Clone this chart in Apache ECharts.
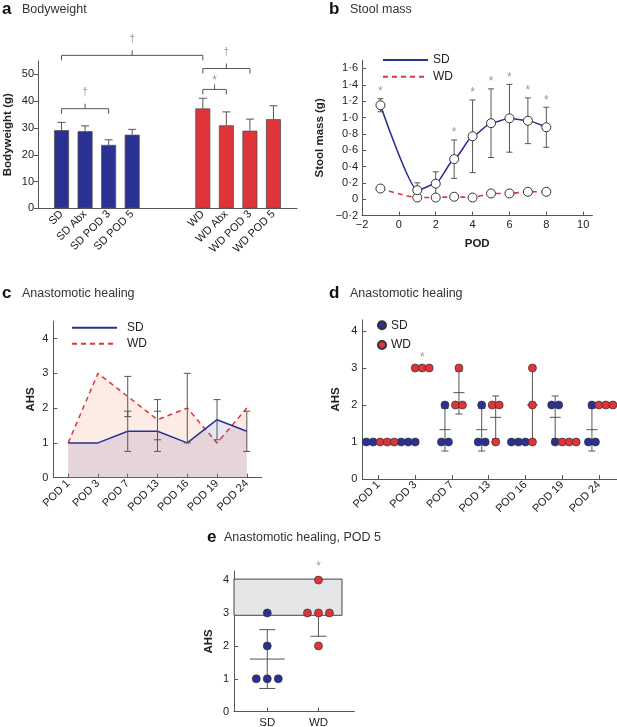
<!DOCTYPE html>
<html><head><meta charset="utf-8">
<script src="https://cdn.jsdelivr.net/npm/echarts@6/dist/echarts.min.js"></script>
<style>html,body{margin:0;padding:0;background:#fff}#c{width:617px;height:727px}</style>
</head><body><div id="c"></div>
<script>
// ---------- Panel a: bodyweight ----------
const bwSDCats = ['SD', 'SD Abx', 'SD POD 3', 'SD POD 5'];
const bwWDCats = ['WD', 'WD Abx', 'WD POD 3', 'WD POD 5'];
const bwSD = [29.2, 28.8, 23.7, 27.5];
const bwSDErr = [2.9, 2.0, 1.9, 2.0];
const bwWD = [37.3, 31.0, 29.0, 33.3];
const bwWDErr = [3.8, 5.0, 4.3, 5.0];
const bwTicks = [0, 10, 20, 30, 40, 50];
const bwBrackets = [['SD', 'WD', 57.1, '†'], ['WD', 'WD POD 3', 52.2, '†'], ['WD', 'WD Abx', 44.4, '*'], ['SD', 'SD POD 3', 37.2, '†']];

// ---------- Panel b: stool mass ----------
const podDays = [-1, 1, 2, 3, 4, 5, 6, 7, 8];
const stoolSD = [1.15, 0.11, 0.19, 0.49, 0.77, 0.93, 0.99, 0.96, 0.88];
const stoolSDErr = [0.08, 0.09, 0.145, 0.235, 0.445, 0.42, 0.415, 0.28, 0.245];
const stoolWD = [0.13, 0.02, 0.02, 0.03, 0.02, 0.07, 0.07, 0.09, 0.09];
const stoolStar = [1, 0, 0, 1, 1, 1, 1, 1, 1];
const stoolYTicks = [-0.2, 0, 0.2, 0.4, 0.6, 0.8, 1.0, 1.2, 1.4, 1.6];
const stoolXTicks = [-2, 0, 2, 4, 6, 8, 10];

// ---------- Panels c, d: anastomotic healing scores ----------
const healCats = ['POD 1', 'POD 3', 'POD 7', 'POD 13', 'POD 16', 'POD 19', 'POD 24'];
const ahsSD = [[1, 1], [1, 1, 1], [2, 1, 1], [2, 1, 1], [1, 1, 1], [2, 2, 1], [2, 1, 1]];
const ahsWD = [[1, 1, 1], [3, 3, 3], [3, 2, 2], [2, 2, 1], [3, 2, 1], [1, 1, 1], [2, 2, 2]];
const ahsStarWD = [0, 1, 0, 0, 0, 0, 0];
const ahsTicks = [0, 1, 2, 3, 4];

// ---------- Panel e: POD 5 ----------
const pod5Groups = ['SD', 'WD'];
const pod5SD = [3, 2, 1, 1, 1];
const pod5WD = [4, 3, 3, 3, 2];
const pod5Box = [0.35, 2.46, 2.93, 4.03];

// ---------- helpers ----------
const FONT = 'Liberation Sans, Arial, Helvetica, sans-serif';
const AX = '#555', TXT = '#222', GREY = '#999';
const BLUE = '#2b3192', RED = '#df3439';
const mean = a => a.reduce((s, v) => s + v, 0) / a.length;
const sstd = a => { const m = mean(a); return a.length > 1 ? Math.sqrt(a.reduce((s, v) => s + (v - m) * (v - m), 0) / (a.length - 1)) : 0; };
const rowOffsets = (n, sp) => Array.from({length: n}, (_, k) => (k - (n - 1) / 2) * sp);
function swarm(groups, centers, sp) {
  const out = groups.map(() => []);
  const levels = [...new Set(groups.flat())];
  levels.forEach(lv => {
    const rows = groups.map((g, gi) => rowOffsets(g.filter(v => v === lv).length, sp).map(o => o + centers[gi]));
    if (rows.length === 2 && rows[0].length && rows[1].length) {
      const ov = Math.max(...rows[0]) + sp - Math.min(...rows[1]);
      if (ov > 0) { rows[0] = rows[0].map(o => o - ov / 2); rows[1] = rows[1].map(o => o + ov / 2); }
    }
    rows.forEach((r, gi) => r.forEach(dx => out[gi].push([lv, dx])));
  });
  return out;
}
const line = (x1, y1, x2, y2, c, w, dash) => ({type: 'line', shape: {x1, y1, x2, y2}, style: {stroke: c || AX, lineWidth: w || 1, lineDash: dash}});

function baseX(grid, extra) {
  return Object.assign({
    gridIndex: grid,
    axisLine: {show: true, onZero: false, lineStyle: {color: AX, width: 1}},
    axisTick: {show: true, inside: true, length: 4, lineStyle: {color: AX}},
    axisLabel: {color: TXT, fontSize: 11, fontFamily: FONT, margin: 4},
    splitLine: {show: false},
    nameTextStyle: {color: TXT, fontSize: 11.5, fontWeight: 'bold', fontFamily: FONT}
  }, extra);
}

// ---------- panel a data ----------
const bwAxis = [''].concat(bwSDCats, ['', ''], bwWDCats, ['']);
const bwBars = bwAxis.map(c => {
  let i = bwSDCats.indexOf(c);
  if (c && i >= 0) return {value: bwSD[i], itemStyle: {color: BLUE}};
  i = bwWDCats.indexOf(c);
  if (c && i >= 0) return {value: bwWD[i], itemStyle: {color: RED}};
  return null;
});
const bwErrData = [];
bwSDCats.forEach((c, i) => bwErrData.push([bwAxis.indexOf(c), bwSD[i], bwSDErr[i]]));
bwWDCats.forEach((c, i) => bwErrData.push([bwAxis.indexOf(c), bwWD[i], bwWDErr[i]]));
const bwBrData = bwBrackets.map(b => [bwAxis.indexOf(b[0]), bwAxis.indexOf(b[1]), b[2]]);

// ---------- panel c/d data ----------
const sdMean = ahsSD.map(mean), wdMean = ahsWD.map(mean);
const sdStd = ahsSD.map(sstd), wdStd = ahsWD.map(sstd);
const cErr = [];
healCats.forEach((c, i) => { if (sdStd[i] > 0) cErr.push([i, sdMean[i], sdStd[i]]); if (wdStd[i] > 0) cErr.push([i, wdMean[i], wdStd[i]]); });
const dSDpts = [], dWDpts = [], dErr = [], dStars = [];
healCats.forEach((c, i) => {
  const sw = swarm([ahsSD[i], ahsWD[i]], [-7, 7], 7);
  sw[0].forEach(p => dSDpts.push({value: [i, p[0]], symbolOffset: [p[1], 0]}));
  sw[1].forEach(p => dWDpts.push({value: [i, p[0]], symbolOffset: [p[1], 0]}));
  dErr.push([i, sdMean[i], sdStd[i], -1]);
  dErr.push([i, wdMean[i], wdStd[i], 1]);
  if (ahsStarWD[i]) dStars.push([i, Math.max(...ahsWD[i]), 1]);
});
// ---------- panel e data ----------
const eSw = [swarm([pod5SD], [0], 11)[0], swarm([pod5WD], [0], 11)[0]];
const ePts = eSw.map((g, gi) => g.map(p => ({value: [gi + 1, p[0]], symbolOffset: [p[1], 0]})));
const eErr = [[1, mean(pod5SD), sstd(pod5SD)], [2, mean(pod5WD), sstd(pod5WD)]];

const chart = echarts.init(document.getElementById('c'), null, {renderer: 'canvas', width: 617, height: 727});

function errRender(half, capHalf, offsetPx, both) {
  return function (params, api) {
    const x = api.value(0), m = api.value(1), s = api.value(2);
    const side = offsetPx ? api.value(3) * offsetPx : 0;
    const pm = api.coord([x, m]);
    const px = pm[0] + side;
    const top = api.coord([x, m + s])[1];
    const bot = both ? api.coord([x, m - s])[1] : pm[1];
    const ch = [];
    if (s > 0) {
      ch.push(line(px, bot, px, top));
      ch.push(line(px - capHalf, top, px + capHalf, top));
      if (both) ch.push(line(px - capHalf, bot, px + capHalf, bot));
    }
    if (half) ch.push(line(px - half, pm[1], px + half, pm[1]));
    return {type: 'group', children: ch};
  };
}
function starRender(mark, dyPx, offsetPx, size) {
  return function (params, api) {
    const p = api.coord([api.value(0), api.value(1)]);
    const side = offsetPx ? api.value(2) * offsetPx : 0;
    return {type: 'text', x: p[0] + side, y: p[1] - dyPx, style: {text: mark, fill: GREY, fontSize: size || 12, fontFamily: FONT, align: 'center', verticalAlign: 'middle'}};
  };
}
const dot = c => ({color: c, borderColor: '#333', borderWidth: 0.7, opacity: 1});

const titles = [];
function addTitle(letter, text, lx, tx, y) {
  titles.push({text: letter, left: lx, top: y - 2, padding: 0, textStyle: {fontSize: 17, fontWeight: 'bold', color: '#111', fontFamily: FONT}});
  titles.push({text: text, left: tx, top: y, padding: 0, textStyle: {fontSize: 12.5, fontWeight: 'normal', color: '#333', fontFamily: FONT}});
}
addTitle('a', 'Bodyweight', 2, 22, 3);
addTitle('b', 'Stool mass', 329, 350, 3);
addTitle('c', 'Anastomotic healing', 2, 22, 287);
addTitle('d', 'Anastomotic healing', 329, 350, 287);
addTitle('e', 'Anastomotic healing, POD 5', 207, 224, 531);

const legendCommon = {orient: 'vertical', padding: 0, formatter: n => n.slice(1), textStyle: {fontSize: 12, color: TXT, fontFamily: FONT}};

const option = {
  backgroundColor: '#fff',
  animation: false,
  title: titles,
  legend: [
    Object.assign({}, legendCommon, {data: ['bSD', 'bWD'], left: 382, top: 54, itemWidth: 45, itemHeight: 10, itemGap: 4.7, itemStyle: {opacity: 0}}),
    Object.assign({}, legendCommon, {data: ['cSD', 'cWD'], left: 71, top: 321.7, itemWidth: 45, itemHeight: 10, itemGap: 4, itemStyle: {opacity: 0}, textStyle: {fontSize: 12, color: TXT, fontFamily: FONT, padding: [0, 0, 0, 5]}}),
    Object.assign({}, legendCommon, {data: ['dSD', 'dWD'], left: 377, top: 319.3, itemWidth: 8, itemHeight: 8, itemGap: 7.7, icon: 'circle'})
  ],
  grid: [
    {left: 38, top: 61, width: 259, height: 147.4},
    {left: 362, top: 60.3, width: 230.4, height: 155.2},
    {left: 53.3, top: 321.1, width: 208.4, height: 156.6},
    {left: 362.3, top: 319.9, width: 255, height: 159.1},
    {left: 234, top: 571.2, width: 120.3, height: 140.5}
  ].map(g => Object.assign(g, {containLabel: false, outerBoundsMode: 'none'})),
  xAxis: [
    baseX(0, {type: 'category', data: bwAxis, boundaryGap: false, axisTick: {show: false}, axisLabel: {color: TXT, fontSize: 11, fontFamily: FONT, interval: 0, rotate: 45, margin: 4}}),
    baseX(1, {type: 'value', min: -2, max: 10.5, name: 'POD', nameLocation: 'middle', nameGap: 22,
      axisTick: {show: true, inside: true, length: 4, lineStyle: {color: AX}, customValues: stoolXTicks},
      axisLabel: {color: TXT, fontSize: 11, fontFamily: FONT, margin: 4, customValues: stoolXTicks, formatter: v => (v < 0 ? '\u2212' : '') + Math.abs(v)}}),
    baseX(2, {type: 'category', data: healCats, boundaryGap: true,
      axisTick: {show: true, inside: true, length: 4, alignWithLabel: true, lineStyle: {color: AX}},
      axisLabel: {color: TXT, fontSize: 11, fontFamily: FONT, interval: 0, rotate: 45, margin: 4}}),
    baseX(3, {type: 'value', min: -0.44, max: 6.5,
      axisTick: {show: true, inside: true, length: 4, lineStyle: {color: AX}, customValues: healCats.map((c, i) => i)},
      axisLabel: {color: TXT, fontSize: 11, fontFamily: FONT, rotate: 45, margin: 4, customValues: healCats.map((c, i) => i), formatter: v => healCats[Math.round(v)]}}),
    baseX(4, {type: 'value', min: 0.35, max: 2.7,
      axisTick: {show: true, inside: true, length: 4, lineStyle: {color: AX}, customValues: [1, 2]},
      axisLabel: {color: TXT, fontSize: 11.5, fontFamily: FONT, margin: 5, customValues: [1, 2], formatter: v => pod5Groups[Math.round(v) - 1]}})
  ],
  yAxis: [
    baseX(0, {type: 'value', min: 0, max: 55, name: 'Bodyweight (g)', nameLocation: 'middle', nameGap: 24,
      axisTick: {show: true, inside: false, length: 4, lineStyle: {color: AX}, customValues: bwTicks},
      axisLabel: {color: TXT, fontSize: 11, fontFamily: FONT, margin: 4, customValues: bwTicks}}),
    baseX(1, {type: 'value', min: -0.2, max: 1.7, name: 'Stool mass (g)', nameLocation: 'middle', nameGap: 36,
      axisTick: {show: true, inside: true, length: 4, lineStyle: {color: AX}, customValues: stoolYTicks},
      axisLabel: {color: TXT, fontSize: 11, fontFamily: FONT, margin: 4, customValues: stoolYTicks,
        formatter: v => Math.abs(v) < 1e-9 ? '0' : (v < 0 ? '\u2212' : '') + Math.abs(v).toFixed(1).replace('.', '\u00b7')}}),
    baseX(2, {type: 'value', min: 0, max: 4.5, name: 'AHS', nameLocation: 'middle', nameGap: 16,
      axisTick: {show: true, inside: true, length: 4, lineStyle: {color: AX}, customValues: ahsTicks},
      axisLabel: {color: TXT, fontSize: 11, fontFamily: FONT, margin: 5, customValues: ahsTicks}}),
    baseX(3, {type: 'value', min: 0, max: 4.3, name: 'AHS', nameLocation: 'middle', nameGap: 20,
      axisTick: {show: true, inside: true, length: 4, lineStyle: {color: AX}, customValues: ahsTicks},
      axisLabel: {color: TXT, fontSize: 11, fontFamily: FONT, margin: 5, customValues: ahsTicks}}),
    baseX(4, {type: 'value', min: 0, max: 4.27, name: 'AHS', nameLocation: 'middle', nameGap: 19,
      axisTick: {show: true, inside: true, length: 4, lineStyle: {color: AX}, customValues: ahsTicks},
      axisLabel: {color: TXT, fontSize: 11, fontFamily: FONT, margin: 5, customValues: ahsTicks}})
  ],
  series: [
    // a
    {type: 'bar', xAxisIndex: 0, yAxisIndex: 0, barWidth: 15, data: bwBars, itemStyle: {borderColor: '#555', borderWidth: 0.8}},
    {type: 'custom', xAxisIndex: 0, yAxisIndex: 0, data: bwErrData, renderItem: errRender(0, 4, 0, false), z: 3},
    {type: 'custom', xAxisIndex: 0, yAxisIndex: 0, data: bwBrData, clip: false, z: 3,
      renderItem: function (params, api) {
        const p1 = api.coord([api.value(0), api.value(2)]), p2 = api.coord([api.value(1), api.value(2)]);
        const mk = bwBrackets[params.dataIndex][3];
        const cx = (p1[0] + p2[0]) / 2, y = p1[1];
        return {type: 'group', children: [
          {type: 'polyline', shape: {points: [[p1[0], y + 5], [p1[0], y], [p2[0], y], [p2[0], y + 5]]}, style: {stroke: AX, lineWidth: 1, fill: null}},
          line(cx, y, cx, y - 5),
          {type: 'text', x: cx, y: y - (mk === '*' ? 9 : 16), style: {text: mk, fill: GREY, fontSize: mk === '*' ? 12 : 10, fontFamily: FONT, align: 'center', verticalAlign: 'middle'}}
        ]};
      }},
    // b
    {type: 'custom', xAxisIndex: 1, yAxisIndex: 1, z: 1, data: podDays.map((d, i) => [d, stoolSD[i], stoolSDErr[i]]), renderItem: errRender(0, 3, 0, true)},
    {name: 'bWD_line', type: 'line', xAxisIndex: 1, yAxisIndex: 1, z: 2, smooth: 0.2, smoothMonotone: 'x', data: podDays.map((d, i) => [d, stoolWD[i]]),
      symbol: 'circle', symbolSize: 9, itemStyle: {color: '#fff', borderColor: '#333', borderWidth: 1}, lineStyle: {color: RED, width: 1.6, type: [5, 4]}},
    {name: 'bSD_line', type: 'line', xAxisIndex: 1, yAxisIndex: 1, z: 3, smooth: 0.2, smoothMonotone: 'x', data: podDays.map((d, i) => [d, stoolSD[i]]),
      symbol: 'circle', symbolSize: 9, itemStyle: {color: '#fff', borderColor: '#333', borderWidth: 1}, lineStyle: {color: BLUE, width: 1.6}},
    {type: 'custom', xAxisIndex: 1, yAxisIndex: 1, z: 4, clip: false,
      data: podDays.map((d, i) => [d, stoolSD[i] + stoolSDErr[i]]).filter((p, i) => stoolStar[i]), renderItem: starRender('*', 7, 0, 12)},
    {name: 'bSD', type: 'line', xAxisIndex: 1, yAxisIndex: 1, data: [], symbol: 'none', lineStyle: {color: BLUE, width: 1.8}, itemStyle: {color: BLUE}},
    {name: 'bWD', type: 'line', xAxisIndex: 1, yAxisIndex: 1, data: [], symbol: 'none', lineStyle: {color: RED, width: 1.8, type: [5, 4]}, itemStyle: {color: RED}},
    // c
    {type: 'line', xAxisIndex: 2, yAxisIndex: 2, z: 2, data: wdMean, symbol: 'none', lineStyle: {color: RED, width: 1.5, type: [5, 4]},
      areaStyle: {color: 'rgba(245,160,130,0.3)', origin: 'start'}},
    {type: 'line', xAxisIndex: 2, yAxisIndex: 2, z: 3, data: sdMean, symbol: 'none', lineStyle: {color: BLUE, width: 1.5},
      areaStyle: {color: 'rgba(90,80,160,0.2)', origin: 'start'}},
    {type: 'custom', xAxisIndex: 2, yAxisIndex: 2, z: 4, data: cErr, renderItem: errRender(0, 3.5, 0, true)},
    {name: 'cSD', type: 'line', xAxisIndex: 2, yAxisIndex: 2, data: [], symbol: 'none', lineStyle: {color: BLUE, width: 1.5}, itemStyle: {color: BLUE}},
    {name: 'cWD', type: 'line', xAxisIndex: 2, yAxisIndex: 2, data: [], symbol: 'none', lineStyle: {color: RED, width: 1.5, type: [5, 4]}, itemStyle: {color: RED}},
    // d
    {type: 'custom', xAxisIndex: 3, yAxisIndex: 3, z: 1, data: dErr, renderItem: errRender(5.5, 3.5, 7, true)},
    {type: 'scatter', xAxisIndex: 3, yAxisIndex: 3, z: 2, symbolSize: 8, data: dSDpts, itemStyle: dot(BLUE)},
    {type: 'scatter', xAxisIndex: 3, yAxisIndex: 3, z: 2, symbolSize: 8, data: dWDpts, itemStyle: dot(RED)},
    {type: 'custom', xAxisIndex: 3, yAxisIndex: 3, z: 3, clip: false, data: dStars, renderItem: starRender('*', 10, 7, 12)},
    {name: 'dSD', type: 'scatter', xAxisIndex: 3, yAxisIndex: 3, data: [], itemStyle: dot(BLUE)},
    {name: 'dWD', type: 'scatter', xAxisIndex: 3, yAxisIndex: 3, data: [], itemStyle: dot(RED)},
    // e
    {type: 'custom', xAxisIndex: 4, yAxisIndex: 4, z: 1, data: eErr, renderItem: errRender(17.5, 8, 0, true)},
    {type: 'custom', xAxisIndex: 4, yAxisIndex: 4, z: 2, data: [pod5Box], renderItem: function (params, api) {
      const p1 = api.coord([api.value(0), api.value(3)]), p2 = api.coord([api.value(1), api.value(2)]);
      return {type: 'rect', shape: {x: p1[0], y: p1[1], width: p2[0] - p1[0], height: p2[1] - p1[1]}, style: {fill: '#e4e5e7', stroke: '#444', lineWidth: 1}};
    }},
    {type: 'scatter', xAxisIndex: 4, yAxisIndex: 4, z: 3, symbolSize: 8, data: ePts[0], itemStyle: dot(BLUE)},
    {type: 'scatter', xAxisIndex: 4, yAxisIndex: 4, z: 3, symbolSize: 8, data: ePts[1], itemStyle: dot(RED)},
    {type: 'custom', xAxisIndex: 4, yAxisIndex: 4, z: 4, clip: false, data: [[2, Math.max(...pod5WD), 0]], renderItem: starRender('*', 13, 0, 12)}
  ]
};
chart.setOption(option);
</script>
</body></html>
